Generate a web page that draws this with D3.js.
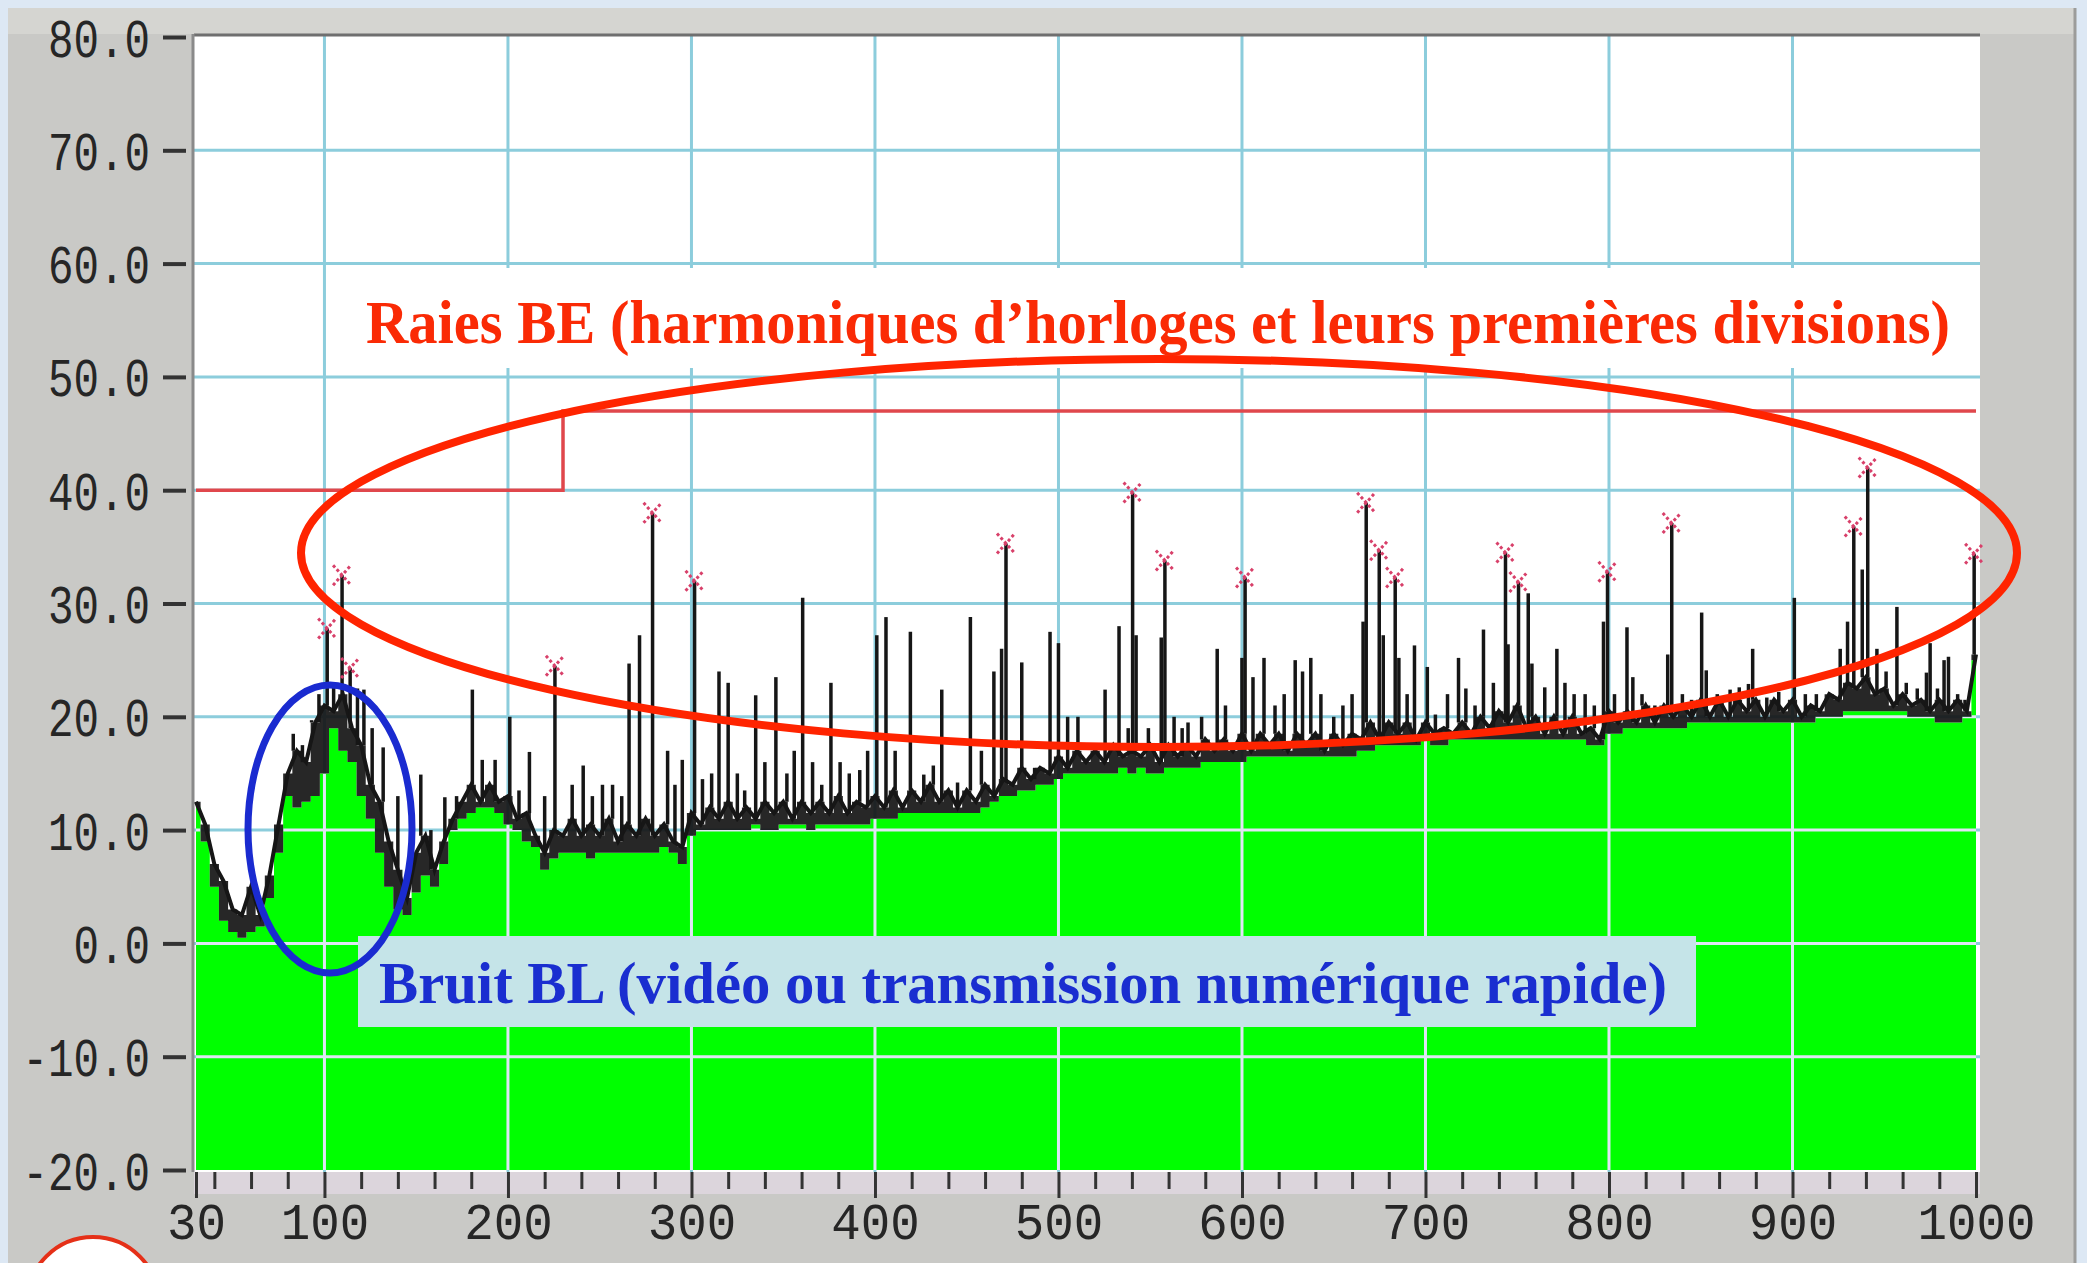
<!DOCTYPE html>
<html>
<head>
<meta charset="utf-8">
<script src="https://cdn.jsdelivr.net/npm/d3@7"></script>
<style>
  html, body { margin: 0; padding: 0; background: #dde8f4; overflow: hidden; }
</style>
</head>
<body>
<div id="chart"></div>
<script>
// sweep: one sample every 5 MHz, 30 -> 1000 MHz
const sweepFreqs = d3.range(30, 1001, 5);

// black trace (peak detector), dBµV/m
const peakLevels = [
  12.5, 10.5, 7, 5.5, 3, 2.5, 5, 2.5, 6, 10.5,          // 30
  15, 17, 16, 19.5, 21, 20.5, 22, 19, 17.5, 14,         // 80
  12.5, 9, 6.5, 4, 8, 9.5, 6.5, 9, 11, 12.5,            // 130
  14, 12.5, 14, 12.5, 13, 11, 11.5, 9.5, 8, 10,         // 180
  9.5, 11, 9.5, 10.5, 9.5, 11, 9, 10.5, 9.5, 11,        // 230
  9.5, 10.5, 9, 8.5, 11.5, 10.5, 12, 11, 12.5, 11,      // 280
  12, 11, 12.5, 11.5, 12.5, 11, 12.5, 11.5, 12.5, 11.5, // 330
  13, 11.5, 12.5, 12, 13, 12, 13.5, 12, 13.5, 12.5,     // 380
  14, 12.5, 13.5, 12, 13.5, 12.5, 14, 13, 14.5, 14,     // 430
  15.5, 14.5, 15.5, 15, 16.5, 15.5, 17, 16, 17, 16,     // 480
  17.5, 16.5, 17, 16.5, 17.5, 16, 17.5, 16.5, 17.5, 16.5, // 530
  18, 17, 18, 17, 18.5, 17, 18.5, 17.5, 18.5, 17,       // 580
  18.5, 17.5, 18.5, 17, 18.5, 17.5, 18.5, 18, 19.5, 18, // 630
  19.5, 18.5, 19.5, 18, 19.5, 18.5, 19, 18.5, 19.5, 18.5, // 680
  20, 19, 20.5, 19.5, 21, 19, 20, 18.5, 20, 18.5,       // 730
  20, 18.5, 19, 18, 20.5, 19.5, 20.5, 19.5, 21, 19.5,   // 780
  21, 20, 21, 20, 21.5, 20, 21.5, 20, 21.5, 20.5,       // 830
  21.5, 20, 21.5, 20.5, 21.5, 20, 21, 20.5, 22, 21.5,   // 880
  23, 22.5, 23.5, 22, 22.5, 21, 22, 21, 21.5, 20.5,     // 930
  21.5, 20.5, 21.5, 20.5, 25.5                          // 980
];

// green fill (average level)
const avgLevels = [
  12, 9, 5, 2, 1, 0.5, 1, 1.5, 4, 8,                    // 30
  13, 12, 12.5, 13, 15, 19, 17, 16, 13, 11,             // 80
  8, 5, 3, 2.5, 4.5, 6, 5, 7, 10, 11,                   // 130
  11.5, 12, 12, 11.5, 10.5, 10, 9, 8.5, 6.5, 7.5,       // 180
  8, 8, 8, 7.5, 8, 8, 8, 8, 8, 8,                       // 230
  8, 8.5, 8, 7, 9.5, 10, 10, 10, 10, 10,                // 280
  10, 10.5, 10, 10, 10.5, 10.5, 10.5, 10, 10.5, 10.5,   // 330
  10.5, 10.5, 10.5, 10.5, 11, 11, 11, 11.5, 11.5, 11.5, // 380
  11.5, 11.5, 11.5, 11.5, 11.5, 11.5, 12, 12.5, 13, 13, // 430
  13.5, 13.5, 14, 14, 14.5, 15, 15, 15, 15, 15,         // 480
  15, 15.5, 15, 15.5, 15, 15, 15.5, 15.5, 15.5, 15.5,   // 530
  16, 16, 16, 16, 16, 16.5, 16.5, 16.5, 16.5, 16.5,     // 580
  16.5, 16.5, 16.5, 16.5, 16.5, 16.5, 16.5, 17, 17, 17.5, // 630
  17.5, 17.5, 17.5, 17.5, 18, 17.5, 17.5, 18, 18, 18,   // 680
  18, 18, 18, 18, 18, 18, 18, 18, 18, 18,               // 730
  18, 18, 17.5, 17.5, 18.5, 18.5, 19, 19, 19, 19,       // 780
  19, 19, 19, 19.5, 19.5, 19.5, 19.5, 19.5, 19.5, 19.5, // 830
  19.5, 19.5, 19.5, 19.5, 19.5, 19.5, 19.5, 20, 20, 20, // 880
  20.5, 20.5, 20.5, 20.5, 20.5, 20.5, 20.5, 20, 20, 20, // 930
  19.5, 19.5, 19.5, 20, 25                              // 980
];

// narrow lines sticking out of the trace [MHz, dB]
const spikes = [
  [83, 18.5], [88, 17.5], [93, 19.7], [97, 22], [105, 23], [118, 22.5], [121.5, 22.4],
  [126, 19], [132, 17.3], [140, 13], [152.5, 14.9], [158, 10], [165.6, 12.9], [172, 13],
  [180.6, 22.4], [186, 16.2], [193, 16.2], [201, 20], [206, 13.5], [211.7, 16.9], [220, 13],
  [235, 14], [241, 15.7], [246, 13], [251.5, 14], [257, 14], [262, 13], [266, 24.7],
  [271.7, 27.2], [287, 17], [291, 14], [295, 16.2], [306, 14.5], [311, 15], [315, 24],
  [320, 23], [325, 15], [329, 13.5], [335, 21.9], [340, 16], [346, 23.5], [352, 15],
  [356, 17], [360.6, 30.5], [366, 16], [371, 14], [376, 23], [381, 16], [386, 15],
  [391.7, 15.3], [396, 17], [401, 27.2], [406, 28.8], [411, 17], [419.3, 27.5], [426.6, 14.9],
  [431.8, 15.7], [436.4, 22.4], [445, 14.2], [452, 28.8], [458, 17], [464.8, 24], [469, 26],
  [480, 24.8], [487, 15.5], [495.4, 27.5], [500, 26.5], [505, 20], [510.6, 20], [519, 17],
  [525.4, 22.4], [533, 28], [538, 19], [542.3, 27.2], [549, 19], [556, 27], [563, 20],
  [567.4, 19], [570.6, 19.5], [578, 20], [586.5, 26], [591, 21], [600, 25.2], [606, 23.5],
  [612, 25.2], [618, 21], [623, 22], [629, 25], [633, 24], [637.5, 25.2], [643, 22],
  [650, 20], [655, 21], [660, 22], [666, 28.4], [677, 27.2], [685.5, 25.2], [690, 22],
  [694, 26.3], [701, 24.4], [705.4, 20.2], [712, 22], [718, 25.2], [722, 22.5], [727, 21],
  [731.6, 27.7], [737, 23], [745, 26.4], [756, 30.9], [758, 24.7], [765, 22.6], [771.6, 26],
  [776, 23], [781, 22], [787, 22], [792, 21], [797, 28.4], [803, 22], [809.8, 27.9],
  [813, 23.5], [818, 22], [825, 21], [832, 25.5], [840, 22], [845, 21.5], [850.5, 29.2],
  [853, 24.1], [859, 22], [866, 22.4], [871, 22.6], [876, 22.9], [878.3, 26], [886, 21.7],
  [892.5, 22.2], [901, 30.5], [907, 22], [913, 22], [926, 26], [930, 28.4], [938, 33],
  [946, 26], [951, 24], [956.9, 29.7], [962, 23], [968, 22.5], [973, 23.9], [975, 26.5],
  [979, 22.5], [982.6, 25], [985, 25.3], [990, 22], [994, 21.5]
];

// peaks flagged by the receiver (red crosses)
const markedPeaks = [
  [101.5, 27.8], [109.6, 32.5], [114, 24.3], [225.6, 24.5], [278.8, 38], [301.7, 32],
  [471.4, 35.3], [540.4, 39.8], [558, 33.8], [601.7, 32.3], [667.7, 38.9], [674.8, 34.7],
  [683.5, 32.3], [743.6, 34.5], [750.7, 31.9], [799.2, 32.8], [834.2, 37.1], [933.4, 36.8],
  [941, 42], [999, 34.4]
];

// class B limit
const limitFreqs = [30, 230, 230, 1000];
const limitLevels = [40, 40, 47, 47];

const yTicks = [80, 70, 60, 50, 40, 30, 20, 10, 0, -10, -20];
const xTicks = [30, 100, 200, 300, 400, 500, 600, 700, 800, 900, 1000];
const xMinor = [40, 60, 80, 120, 140, 160, 180, 220, 240, 260, 280, 320, 340, 360, 380,
  420, 440, 460, 480, 520, 540, 560, 580, 620, 640, 660, 680, 720, 740, 760, 780,
  820, 840, 860, 880, 920, 940, 960, 980];
const xGrid = [100, 200, 300, 400, 500, 600, 700, 800, 900];
const yGrid = [70, 60, 50, 40, 30, 20, 10, 0, -10];

const W = 2087, H = 1263;
const plot = { left: 194, right: 1980, top: 36, bottom: 1172 };

const x = d3.scaleLinear().domain([30, 1000]).range([196, 1976]);
const y = d3.scaleLinear().domain([-20, 80]).range([1170, 37]);

const svg = d3.select('#chart').append('svg')
  .attr('width', W).attr('height', H)
  .style('display', 'block');

// page + grey instrument panel
svg.append('rect').attr('width', W).attr('height', H).attr('fill', '#dde8f4');
svg.append('rect').attr('x', 8).attr('y', 8).attr('width', 2067).attr('height', H - 8)
  .attr('fill', '#c9c9c6');
svg.append('rect').attr('x', 8).attr('y', 8).attr('width', 2067).attr('height', 26)
  .attr('fill', '#d5d5d1');
svg.append('line').attr('x1', 2075).attr('x2', 2075).attr('y1', 8).attr('y2', H)
  .attr('stroke', '#9c9c9a').attr('stroke-width', 3);

// plot background
svg.append('rect')
  .attr('x', plot.left).attr('y', plot.top)
  .attr('width', plot.right - plot.left).attr('height', plot.bottom - plot.top)
  .attr('fill', '#ffffff');

// axis band under plot
svg.append('rect')
  .attr('x', plot.left).attr('y', plot.bottom)
  .attr('width', plot.right - plot.left).attr('height', 22)
  .attr('fill', '#dcd5dc');

function drawGrid(g, color) {
  g.selectAll('.vg').data(xGrid).enter().append('line')
    .attr('x1', d => x(d)).attr('x2', d => x(d))
    .attr('y1', plot.top).attr('y2', plot.bottom)
    .attr('stroke', color).attr('stroke-width', 3);
  g.selectAll('.hg').data(yGrid).enter().append('line')
    .attr('x1', plot.left).attr('x2', plot.right)
    .attr('y1', d => y(d)).attr('y2', d => y(d))
    .attr('stroke', color).attr('stroke-width', 3);
}

drawGrid(svg.append('g'), '#8ccddc');

// green average area
const avgData = sweepFreqs.map((f, i) => ({ f, v: avgLevels[i] }));
const area = d3.area()
  .x(d => x(d.f))
  .y0(y(-20))
  .y1(d => y(d.v))
  .curve(d3.curveStep);

svg.append('clipPath').attr('id', 'greenClip')
  .append('path').datum(avgData).attr('d', area);

svg.append('path').datum(avgData)
  .attr('d', area)
  .attr('fill', '#00ff00');

// grid shows whitish on top of the green
drawGrid(svg.append('g').attr('clip-path', 'url(#greenClip)'), '#dfe6f3');

// white box behind the red caption
svg.append('rect')
  .attr('x', 344).attr('y', 268).attr('width', plot.right - 344).attr('height', 100)
  .attr('fill', '#ffffff');

// plot frame (sunken look)
svg.append('line').attr('x1', plot.left).attr('x2', plot.right)
  .attr('y1', plot.top - 1).attr('y2', plot.top - 1)
  .attr('stroke', '#6f6f6f').attr('stroke-width', 3);
svg.append('line').attr('x1', plot.left - 1).attr('x2', plot.left - 1)
  .attr('y1', plot.top - 2).attr('y2', plot.bottom)
  .attr('stroke', '#8a8a8a').attr('stroke-width', 3);

// limit line
const limitData = limitFreqs.map((f, i) => ({ f, v: limitLevels[i] }));
svg.append('path').datum(limitData)
  .attr('d', d3.line().x(d => x(d.f)).y(d => y(d.v)))
  .attr('fill', 'none')
  .attr('stroke', '#e0474c')
  .attr('stroke-width', 3.5);

// dense noise between average and peak reads as a dark band
const peakData = sweepFreqs.map((f, i) => ({ f, v: peakLevels[i], lo: avgLevels[i] }));
svg.append('path').datum(peakData)
  .attr('d', d3.area().x(d => x(d.f)).y0(d => y(d.lo)).y1(d => y(d.v)).curve(d3.curveStep))
  .attr('fill', '#151515')
  .attr('fill-opacity', 0.92);

// black peak trace
svg.append('path').datum(peakData)
  .attr('d', d3.line().x(d => x(d.f)).y(d => y(d.v)))
  .attr('fill', 'none')
  .attr('stroke', '#161616')
  .attr('stroke-width', 4)
  .attr('stroke-linejoin', 'miter');

const baseAt = f => peakLevels[Math.round((f - 30) / 5)];

svg.append('g').selectAll('line')
  .data(spikes.concat(markedPeaks))
  .enter().append('line')
  .attr('x1', d => x(d[0])).attr('x2', d => x(d[0]))
  .attr('y1', d => y(baseAt(d[0]))).attr('y2', d => y(d[1]))
  .attr('stroke', '#161616')
  .attr('stroke-width', 3.5);

// red crosses on flagged peaks
const mk = svg.append('g').selectAll('g')
  .data(markedPeaks)
  .enter().append('g')
  .attr('transform', d => 'translate(' + x(d[0]) + ',' + y(d[1]) + ')');
mk.append('line').attr('x1', -9).attr('y1', -10).attr('x2', 9).attr('y2', 10);
mk.append('line').attr('x1', -9).attr('y1', 10).attr('x2', 9).attr('y2', -10);
mk.selectAll('line')
  .attr('stroke', '#d8406a')
  .attr('stroke-width', 3)
  .attr('stroke-dasharray', '3 2.5');

// axes
const yAxis = svg.append('g')
  .attr('transform', 'translate(186,0)')
  .call(d3.axisLeft(y).tickValues(yTicks).tickSize(23).tickPadding(13)
    .tickFormat(d => d.toFixed(1)));
yAxis.select('.domain').remove();
yAxis.selectAll('.tick line').attr('stroke', '#333').attr('stroke-width', 4);
yAxis.selectAll('.tick text')
  .attr('fill', '#262626')
  .attr('font-family', '"Liberation Mono", "DejaVu Sans Mono", monospace')
  .attr('font-size', 53)
  .attr('dy', '0.36em')
  .attr('textLength', d => d.toFixed(1).length * 25.5)
  .attr('lengthAdjust', 'spacingAndGlyphs');

const xAxis = svg.append('g')
  .attr('transform', 'translate(0,' + plot.bottom + ')')
  .call(d3.axisBottom(x).tickValues(xTicks).tickSize(26).tickPadding(4)
    .tickFormat(d => String(d)));
xAxis.select('.domain').remove();
xAxis.selectAll('.tick line').attr('stroke', '#333').attr('stroke-width', 3);
xAxis.selectAll('.tick text')
  .attr('fill', '#262626')
  .attr('font-family', '"Liberation Mono", "DejaVu Sans Mono", monospace')
  .attr('font-size', 52)
  .attr('textLength', d => String(d).length * 29.5)
  .attr('lengthAdjust', 'spacingAndGlyphs');

const xMinorAxis = svg.append('g')
  .attr('transform', 'translate(0,' + plot.bottom + ')')
  .call(d3.axisBottom(x).tickValues(xMinor).tickSize(17).tickFormat(''));
xMinorAxis.select('.domain').remove();
xMinorAxis.selectAll('.tick line').attr('stroke', '#333').attr('stroke-width', 3);

// blue caption box
svg.append('rect')
  .attr('x', 358).attr('y', 936).attr('width', 1338).attr('height', 91)
  .attr('fill', '#c5e4e8');

svg.append('text')
  .attr('x', 366).attr('y', 343)
  .attr('font-family', '"Liberation Serif", "Times New Roman", serif')
  .attr('font-weight', 'bold')
  .attr('font-size', 61)
  .attr('fill', '#fa2a05')
  .attr('textLength', 1584)
  .attr('lengthAdjust', 'spacingAndGlyphs')
  .text('Raies BE (harmoniques d’horloges et leurs premières divisions)');

svg.append('text')
  .attr('x', 379).attr('y', 1003)
  .attr('font-family', '"Liberation Serif", "Times New Roman", serif')
  .attr('font-weight', 'bold')
  .attr('font-size', 59)
  .attr('fill', '#1a2ed0')
  .attr('textLength', 1288)
  .attr('lengthAdjust', 'spacingAndGlyphs')
  .text('Bruit BL (vidéo ou transmission numérique rapide)');

// highlight ellipses
svg.append('ellipse')
  .attr('cx', 1159).attr('cy', 553).attr('rx', 858).attr('ry', 194)
  .attr('fill', 'none').attr('stroke', '#ff2400').attr('stroke-width', 8);

svg.append('ellipse')
  .attr('cx', 330).attr('cy', 829).attr('rx', 82).attr('ry', 144)
  .attr('fill', 'none').attr('stroke', '#1a2bd0').attr('stroke-width', 7);

// logo corner (cut off at bottom)
svg.append('circle')
  .attr('cx', 93).attr('cy', 1303).attr('r', 66)
  .attr('fill', '#ffffff').attr('stroke', '#e53018').attr('stroke-width', 4);
</script>
</body>
</html>
